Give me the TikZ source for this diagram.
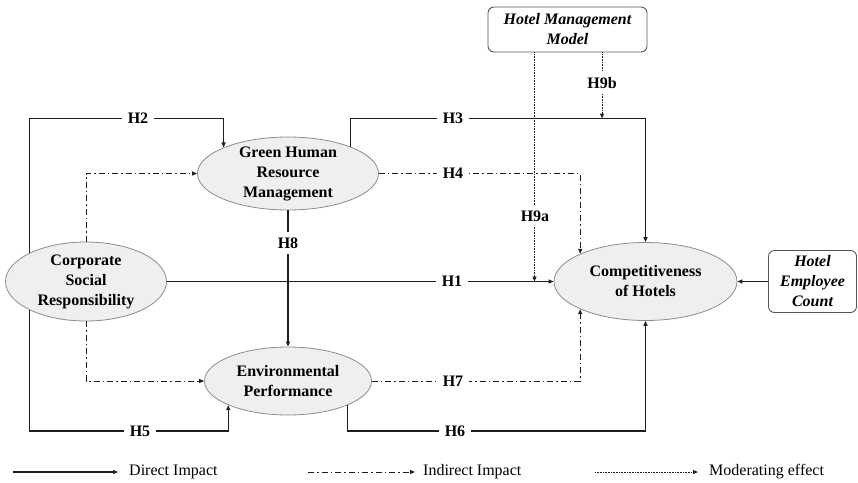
\documentclass[tikz,border=0pt]{standalone}
\usepackage{fontspec}
\setmainfont{Liberation Serif}
\usetikzlibrary{shapes.geometric,arrows.meta,calc}
\definecolor{ellgray}{HTML}{8C8C8C}
\definecolor{ellfill}{HTML}{EFEFEF}
\definecolor{boxgray}{HTML}{555555}
\definecolor{linecol}{HTML}{1E1E1E}
\begin{document}
\begin{tikzpicture}[x=1pt,y=-1pt,
  ell/.style={ellipse,draw=ellgray,fill=ellfill,line width=0.8pt,inner sep=0pt},
  lbl/.style={align=center,font=\fontsize{16}{20}\selectfont\bfseries,inner sep=0pt,text=black},
  box/.style={rectangle,rounded corners=6pt,draw=boxgray,fill=white,line width=0.9pt,align=center,inner sep=0pt,font=\fontsize{16}{20}\selectfont\bfseries\itshape},
  direct/.style={line width=1.2pt,draw=linecol,-{Triangle[length=5pt,width=4pt]}},
  indirect/.style={line width=1pt,draw=linecol,dash pattern=on 6pt off 3pt on 1.5pt off 3pt,-{Triangle[length=5pt,width=4pt]}},
  moder/.style={line width=1pt,draw=linecol,dash pattern=on 0.8pt off 0.8pt,-{Triangle[length=5pt,width=4pt]}},
  hlab/.style={fill=white,font=\fontsize{16}{20}\selectfont\bfseries,inner xsep=6pt,inner ysep=4pt},
  legtext/.style={anchor=west,font=\fontsize{16}{20}\selectfont,inner sep=0pt}
]
\path[use as bounding box] (0,0) rectangle (858,482);

% nodes
\node[ell,minimum width=161pt,minimum height=79pt,label={[lbl]center:Corporate\\Social\\Responsibility}] (csr) at (86,281.5) {};
\node[ell,minimum width=181pt,minimum height=73pt,label={[lbl]center:Green Human\\Resource\\Management}] (ghrm) at (288,173.5) {};
\node[ell,minimum width=167pt,minimum height=68pt,label={[lbl]center:Environmental\\Performance}] (ep) at (288,381) {};
\node[ell,minimum width=183pt,minimum height=78pt,label={[lbl]center:Competitiveness\\of Hotels}] (comp) at (645.5,281.5) {};
\node[box,minimum width=159pt,minimum height=45pt] (hmm) at (567.5,29.5) {Hotel Management\\Model};
\node[box,minimum width=88pt,minimum height=62pt] (hec) at (812.5,281.5) {Hotel\\Employee\\Count};

% helper coordinates
\coordinate (top2) at (0,118.5);
\coordinate (bot) at (0,431);
\coordinate (m1) at ($(hmm.south)+(-33,0)$);
\coordinate (m2) at ($(hmm.south)+(34.5,0)$);

% direct impacts
\draw[direct] (csr.east) -- (comp.west);
\draw[direct] (csr.153) |- (ghrm.158 |- top2) -- (ghrm.158);
\draw[direct] (ghrm.23) |- (comp.north |- top2) -- (comp.north);
\draw[direct] (ghrm.south) -- (ep.north);
\draw[direct] (csr.207) |- (ep.202 |- bot) -- (ep.202);
\draw[direct] (ep.338) |- (comp.south |- bot) -- (comp.south);
\draw[direct] (hec.west) -- (comp.east);

% indirect impacts
\draw[indirect] (csr.north) |- (ghrm.west);
\draw[indirect] (csr.south) |- (ep.west);
\draw[indirect] (ghrm.east) -| (comp.157);
\draw[indirect] (ep.east) -| (comp.203);

% moderating effects
\draw[moder] (m1) -- (m1 |- comp.west);
\draw[moder] (m2) -- (m2 |- top2);

% labels
\node[hlab] (h1) at (452,281.5) {H1};
\node[hlab] (h2) at (138,118.5) {H2};
\node[hlab] (h3) at (453,118.5) {H3};
\node[hlab] (h4) at (453,173) {H4};
\node[hlab] (h5) at (140,431) {H5};
\node[hlab] (h6) at (455,431) {H6};
\node[hlab] (h7) at (453,381) {H7};
\node[hlab,inner ysep=6pt] (h8) at (288,243) {H8};
\node[hlab,inner ysep=5pt] (h9a) at (535,216) {H9a};
\node[hlab,inner ysep=5pt] (h9b) at (602,83) {H9b};

% legend
\coordinate (l1a) at (13,472);
\coordinate (l1b) at (118,472);
\coordinate (l2a) at (308,472);
\coordinate (l2b) at (415,472);
\coordinate (l3a) at (595,472);
\coordinate (l3b) at (698,472);
\draw[direct] (l1a) -- (l1b);
\draw[indirect] (l2a) -- (l2b);
\draw[moder] (l3a) -- (l3b);
\node[legtext] (t1) at (129,472) {Direct Impact};
\node[legtext] (t2) at (423,472) {Indirect Impact};
\node[legtext] (t3) at (709,472) {Moderating effect};
\end{tikzpicture}
\end{document}
